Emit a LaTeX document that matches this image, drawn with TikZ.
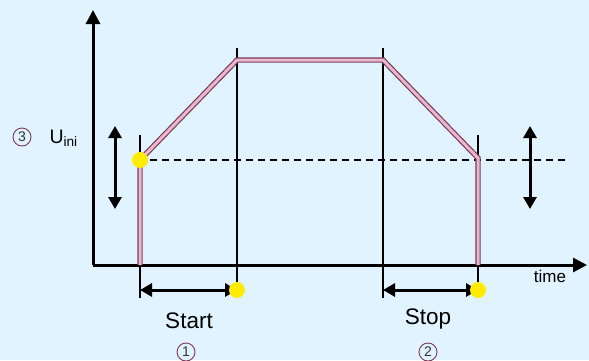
\documentclass[tikz,border=0pt]{standalone}
\usepackage{fontspec}
\setmainfont{Liberation Sans}
\usetikzlibrary{arrows.meta}
\definecolor{bgblue}{RGB}{224,243,254}
\definecolor{mauve}{RGB}{122,58,92}
\definecolor{rosepink}{RGB}{234,184,204}
\definecolor{dotyellow}{RGB}{255,236,0}
\begin{document}
\begin{tikzpicture}[x=1pt,y=-1pt,
   axis/.style={line width=3pt,-{Triangle[length=14pt,width=14pt]}},
   guide/.style={line width=1.6pt},
   span/.style={line width=3pt,{Triangle[length=12pt,width=13pt]}-{Triangle[length=12pt,width=13pt]}},
   curve/.style={draw=mauve,line width=1.2pt,double=rosepink,double distance=3pt,line join=miter},
   dot/.style={circle,fill=dotyellow,inner sep=0pt,minimum size=16pt},
   num/.style={circle,draw=mauve,line width=0.9pt,inner sep=0pt,minimum size=18pt,
     font=\fontsize{14}{14}\selectfont,text=black!80},
   lbl/.style={font=\fontsize{22.5}{22.5}\selectfont}]
\fill[bgblue] (0,0) rectangle (589,360);
\useasboundingbox (0,0) rectangle (589,360);
% axes
\coordinate (origin) at (93,265);
\coordinate (ytop) at (93,10);
\coordinate (xend) at (587,265);
\draw[axis] (origin) -- (ytop);
\draw[axis] (origin) -- (xend);
\node[font=\fontsize{17}{17}\selectfont] (time) at (550,276) {time};
% guide lines
\coordinate (g1t) at (140,135); \coordinate (g1b) at (140,298);
\coordinate (g2t) at (237,48);  \coordinate (g2b) at (237,298);
\coordinate (g3t) at (383,48);  \coordinate (g3b) at (383,298);
\coordinate (g4t) at (478,135); \coordinate (g4b) at (478,298);
\draw[guide] (g1t) -- (g1b);
\draw[guide] (g2t) -- (g2b);
\draw[guide] (g3t) -- (g3b);
\draw[guide] (g4t) -- (g4b);
% initial level
\coordinate (dl) at (150,160);
\coordinate (dr) at (570,160);
\draw[guide,dash pattern=on 7pt off 5pt] (dl) -- (dr);
% ramp profile
\coordinate (p0) at (140,265);
\coordinate (p1) at (140,160);
\coordinate (p2) at (237,60);
\coordinate (p3) at (383,60);
\coordinate (p4) at (478,158);
\coordinate (p5) at (478,265);
\draw[curve] (p0) -- (p1) -- (p2) -- (p3) -- (p4) -- (p5);
% level arrows
\coordinate (la) at (115,126); \coordinate (lb) at (115,209);
\coordinate (ra) at (530,126); \coordinate (rb) at (530,209);
\draw[span] (la) -- (lb);
\draw[span] (ra) -- (rb);
% time spans
\coordinate (s1) at (140,290); \coordinate (s2) at (237,290);
\coordinate (s3) at (383,290); \coordinate (s4) at (478,290);
\draw[span] (s1) -- (s2);
\draw[span] (s3) -- (s4);
% yellow points
\node[dot] (ini) at (p1) {};
\node[dot] (startend) at (s2) {};
\node[dot] (stopend) at (s4) {};
% labels
\node[lbl] (start) at (189,321) {Start};
\node[lbl] (stop) at (428,319) {Stop};
\node[num] (n1) at (186,352) {1};
\node[num] (n2) at (428,352) {2};
\node[num] (n3) at (22,137) {3};
\node[font=\fontsize{19.5}{19.5}\selectfont,anchor=west] (uini) at (46,138) {U\textsubscript{ini}};
\end{tikzpicture}
\end{document}
